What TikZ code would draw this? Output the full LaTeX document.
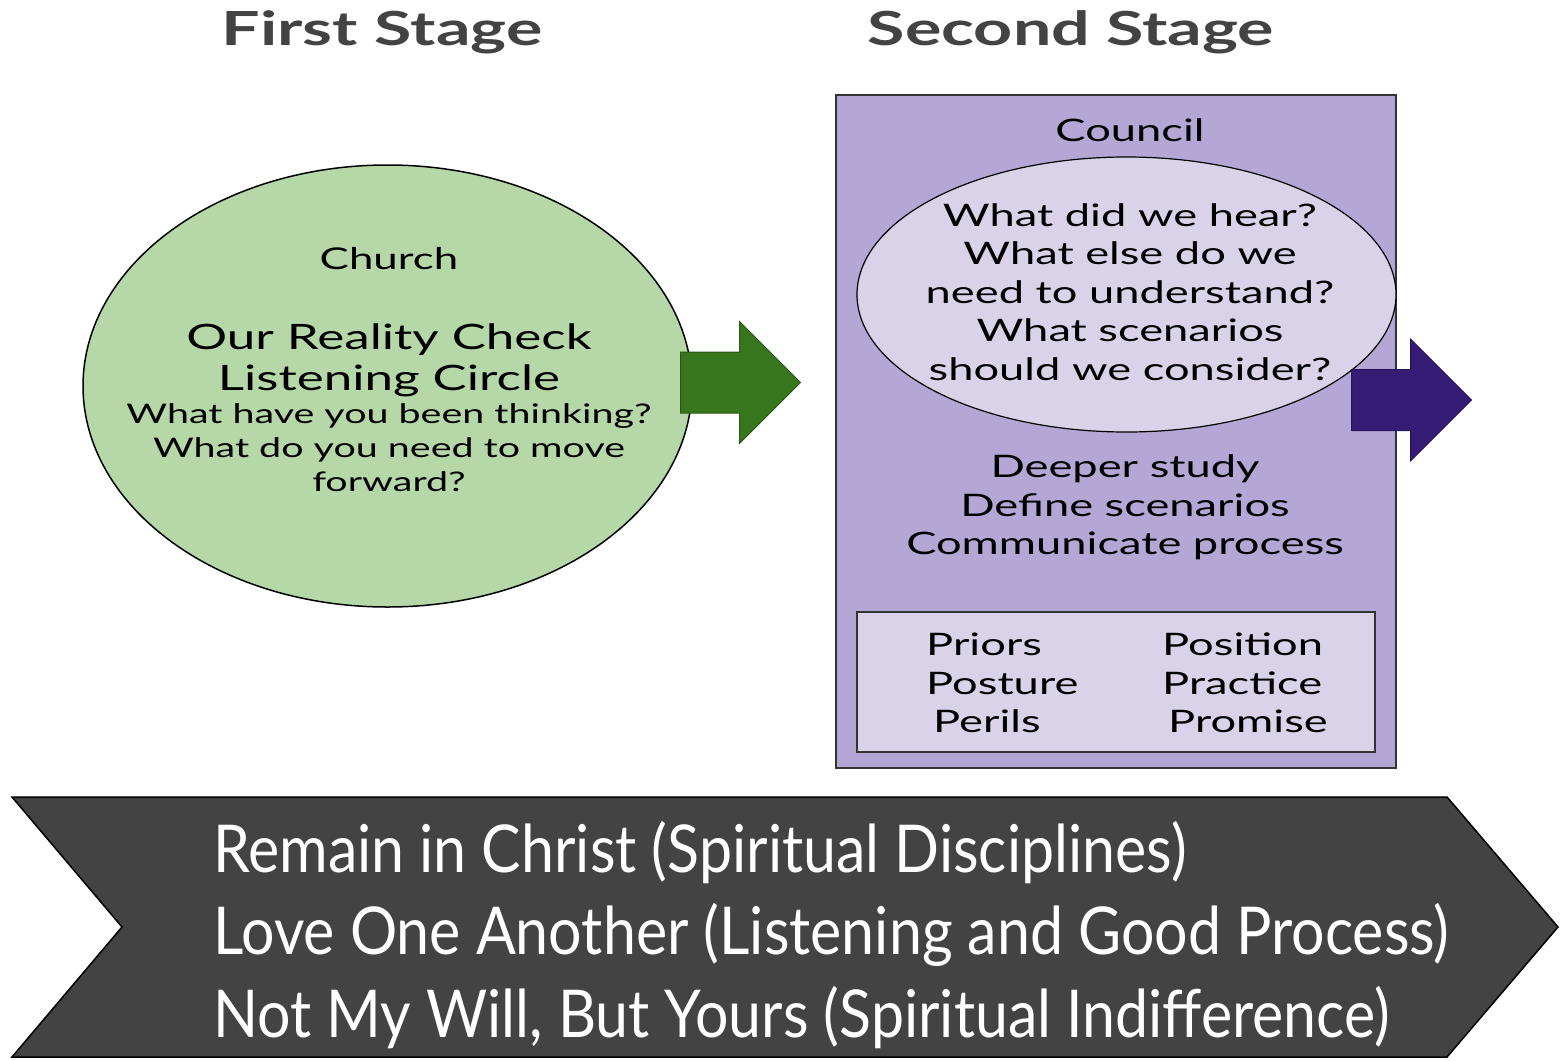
\documentclass[tikz,border=0pt]{standalone}
\usepackage{fontspec}
\usetikzlibrary{shapes.geometric,shapes.arrows}
\setmainfont{Lato}
\newfontfamily\headfont[FakeStretch=1.45]{Lato}
\newfontfamily\bodyfont[FakeStretch=1.46]{Lato}
\newfontfamily\bannerfont[FakeStretch=0.895]{Lato}

\definecolor{headgray}{HTML}{434343}
\definecolor{churchgreen}{HTML}{B6D7A8}
\definecolor{arrowgreen}{HTML}{38761D}
\definecolor{councilpurple}{HTML}{B4A7D6}
\definecolor{lightpurple}{HTML}{D9D2E9}
\definecolor{arrowpurple}{HTML}{351C75}
\definecolor{bannergray}{HTML}{434343}

\tikzset{
  stagetitle/.style={text=headgray, inner sep=0, font={\headfont\bfseries\fontsize{47}{47}\selectfont}},
  bodytext/.style={align=center, inner sep=0, font={\bodyfont\fontsize{27}{34}\selectfont}},
  bigtext/.style={align=center, inner sep=0, font={\bodyfont\fontsize{35}{41}\selectfont}},
  counciltext/.style={align=center, inner sep=0, font={\bodyfont\fontsize{31}{38.5}\selectfont}},
  fourptext/.style={align=left, anchor=west, inner sep=0, font={\bodyfont\fontsize{31}{38.5}\selectfont}},
  blockarrow/.style={single arrow, anchor=tail, inner xsep=0, inner ysep=30, minimum height=120,
    minimum width=121, single arrow head extend=30.5, single arrow tip angle=90, line width=1},
}

\begin{document}
\begin{tikzpicture}[x=1pt,y=-1pt]
  \useasboundingbox (0,0) rectangle (1562,1060);

  \node[stagetitle] (first) at (382,32) {First Stage};
  \node[stagetitle] (second) at (1071,32) {Second Stage};

  % first stage
  \node[ellipse, draw, line width=1.5, fill=churchgreen, inner sep=0,
    minimum width=609, minimum height=442] (church) at (387.5,386) {};
  \node[bodytext, font={\bodyfont\fontsize{30}{34}\selectfont}] (churchlbl) at (389,259) {Church};
  \node[bigtext] (reality) at (389,360) {Our Reality Check\\Listening Circle};
  \node[bodytext] (listen) at (389,448) {What have you been thinking?\\What do you need to move\\forward?};

  \node[blockarrow, fill=arrowgreen, draw=arrowgreen!75!black] (go1) at (680,382.5) {};

  % second stage
  \node[draw=black!80, line width=1.5, fill=councilpurple, inner sep=0,
    minimum width=560, minimum height=673] (council) at (1116,431.5) {};
  \node[counciltext] (councillbl) at (1130,130) {Council};
  \node[ellipse, draw, line width=1.2, fill=lightpurple, inner sep=0,
    minimum width=539, minimum height=275] (hear) at (1126.5,294.5) {};
  \node[counciltext] (hearq) at (1130,292) {What did we hear?\\What else do we\\need to understand?\\What scenarios\\should we consider?};
  \node[counciltext] (steps) at (1125,507.5) {Deeper study\\Define scenarios\\Communicate process};
  \node[draw=black!80, line width=1.5, fill=lightpurple, inner sep=0,
    minimum width=518, minimum height=140] (fourp) at (1116,682) {};
  \node[fourptext] (leftp) at (926,683) {Priors\\Posture\\\hspace*{7pt}Perils};
  \node[fourptext] (rightp) at (1162,683) {Position\\Practice\\\hspace*{6pt}Promise};

  \node[blockarrow, fill=arrowpurple, draw=arrowpurple!75!black] (go2) at (1351,400) {};

  % banner
  \fill[bannergray, draw=black, line width=1.5]
    (12,797) -- (1447,797) -- (1558,927) -- (1447,1057) -- (12,1057) -- (122,927) -- cycle;
  \node[align=left, anchor=west, inner sep=0, text=white,
    font={\bannerfont\fontsize{66}{82.5}\selectfont}] (ways) at (213,935)
    {Remain in Christ (Spiritual Disciplines)\\Love One Another (Listening and Good Process)\\Not My Will, But Yours (Spiritual Indifference)};
\end{tikzpicture}
\end{document}
